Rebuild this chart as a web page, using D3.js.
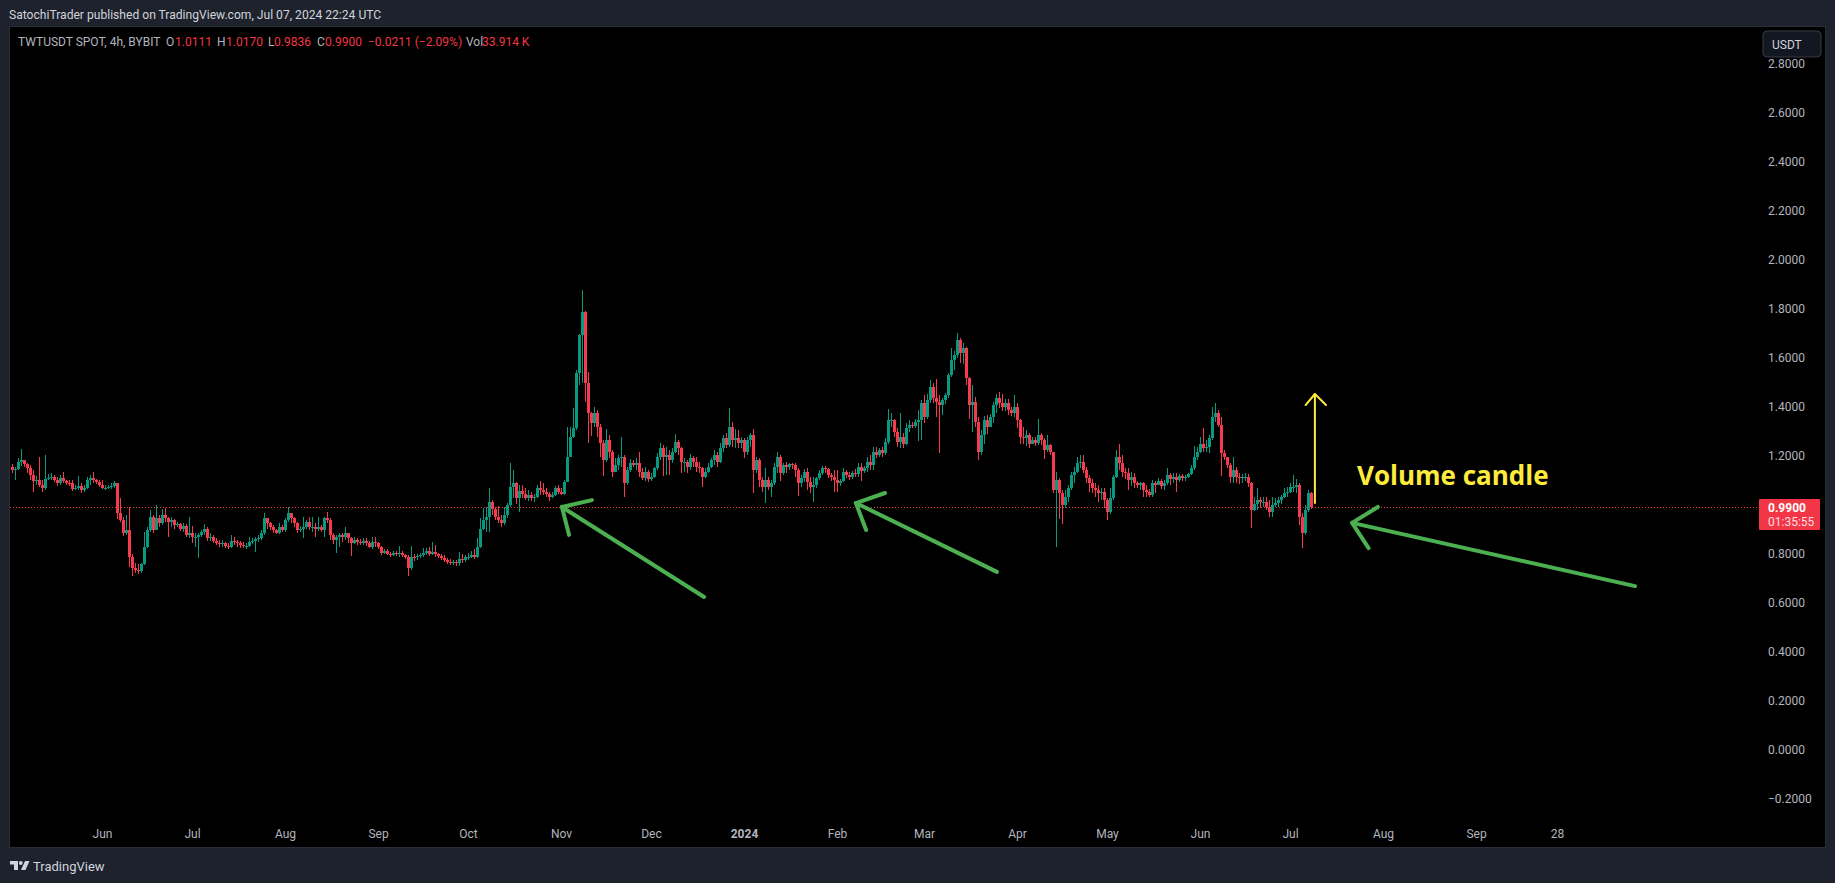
<!DOCTYPE html>
<html>
<head>
<meta charset="utf-8">
<script src="https://cdn.jsdelivr.net/npm/d3@7"></script>
<style>
  html, body { margin: 0; background: #1e222d; overflow: hidden; }
  text { font-family: Roboto, sans-serif; }
</style>
</head>
<body>
<div id="graphic"></div>
<script>
// daily candles, first one is 2 May 2023
var firstDay = '2023-05-02'

var opens = [
  1.156,1.142,1.145,1.176,1.183,1.166,1.149,1.122,1.099,1.104,1.081,1.068,1.108,1.112,1.115,1.104,1.088,1.112,1.099,1.091,
  1.088,1.064,1.070,1.079,1.061,1.068,1.102,1.112,1.104,1.095,1.081,1.068,1.070,1.072,1.077,1.088,.966,.938,.884,.900,
  .789,.741,.734,.732,.759,.830,.898,.952,.900,.945,.925,.959,.945,.932,.938,.918,.922,.904,.914,.877,
  .884,.870,.870,.877,.891,.904,.864,.870,.854,.846,.841,.843,.832,.830,.854,.850,.843,.835,.832,.832,
  .850,.854,.860,.864,.884,.945,.925,.911,.898,.887,.911,.898,.938,.966,.945,.925,.898,.904,.911,.932,
  .909,.911,.904,.909,.900,.945,.938,.877,.857,.870,.877,.870,.884,.864,.843,.857,.850,.846,.854,.843,
  .830,.850,.843,.827,.805,.813,.802,.796,.805,.800,.805,.796,.786,.741,.789,.786,.792,.796,.805,.813,
  .802,.809,.800,.792,.782,.775,.769,.764,.769,.762,.778,.775,.786,.789,.796,.786,.830,.904,.938,.952,
  1.013,.982,.952,.938,.925,.959,1.000,1.074,1.088,1.027,1.058,1.045,1.027,1.040,1.027,1.034,1.068,1.061,1.054,1.045,
  1.031,1.040,1.068,1.054,1.045,1.095,1.197,1.279,1.313,1.537,1.693,1.789,1.496,1.374,1.333,1.374,1.320,1.252,1.183,1.265,
  1.217,1.136,1.163,1.190,1.197,1.088,1.143,1.173,1.163,1.173,1.136,1.109,1.136,1.105,1.116,1.150,1.197,1.231,1.197,1.204,
  1.183,1.217,1.258,1.231,1.177,1.177,1.156,1.190,1.177,1.156,1.150,1.116,1.136,1.156,1.183,1.204,1.177,1.231,1.272,1.245,
  1.320,1.265,1.272,1.252,1.265,1.217,1.265,1.286,1.143,1.183,1.102,1.075,1.102,1.075,1.088,1.156,1.197,1.129,1.163,1.156,
  1.167,1.163,1.143,1.088,1.109,1.136,1.095,1.075,1.082,1.109,1.129,1.150,1.146,1.122,1.113,1.102,1.088,1.099,1.136,1.122,
  1.115,1.129,1.126,1.156,1.140,1.149,1.177,1.163,1.217,1.204,1.224,1.211,1.258,1.347,1.347,1.299,1.258,1.279,1.251,1.313,
  1.326,1.322,1.340,1.347,1.415,1.360,1.428,1.483,1.435,1.421,1.408,1.428,1.449,1.530,1.591,1.612,1.673,1.619,1.639,1.517,
  1.408,1.421,1.340,1.217,1.285,1.347,1.319,1.360,1.408,1.435,1.415,1.398,1.415,1.387,1.376,1.401,1.347,1.279,1.272,1.285,
  1.251,1.265,1.254,1.285,1.265,1.224,1.245,1.217,1.061,1.102,1.047,1.000,1.034,1.068,1.122,1.136,1.170,1.177,1.143,1.109,
  1.088,1.068,1.061,1.047,1.054,1.020,.973,1.027,1.115,1.197,1.170,1.136,1.129,1.102,1.115,1.088,1.081,1.088,1.061,1.054,
  1.041,1.088,1.081,1.099,1.077,1.088,1.122,1.105,1.115,1.102,1.118,1.109,1.113,1.126,1.149,1.197,1.217,1.251,1.231,1.238,
  1.272,1.360,1.374,1.326,1.211,1.197,1.163,1.115,1.143,1.115,1.109,1.115,1.115,1.088,.979,1.006,1.020,1.013,1.013,.993,
  .973,1.000,1.009,1.020,1.034,1.050,1.054,1.075,1.075,1.081,.952,.884,.979,1.047
]
var highs = [
  1.166,1.156,1.190,1.227,1.183,1.172,1.163,1.142,1.118,1.194,1.102,1.204,1.126,1.129,1.122,1.115,1.122,1.136,1.104,1.102,
  1.102,1.081,1.118,1.088,1.081,1.115,1.122,1.133,1.108,1.102,1.104,1.081,1.081,1.088,1.098,1.088,1.027,.952,.959,.990,
  .802,.762,.759,.764,.891,.911,.979,.959,1.000,.959,.982,.986,.952,.949,.941,.932,.928,.925,.922,.952,
  .914,.884,.884,.898,.922,.911,.884,.877,.864,.857,.857,.850,.843,.877,.870,.857,.854,.850,.846,.868,
  .864,.868,.877,.898,.966,.945,.932,.918,.904,.928,.918,.945,.990,.968,.952,.932,.914,.952,.938,.952,
  .952,.925,.949,.918,.949,.971,.945,.884,.877,.887,.887,.909,.887,.870,.870,.864,.860,.864,.864,.854,
  .868,.870,.850,.832,.819,.819,.809,.813,.813,.832,.813,.802,.796,.834,.800,.802,.805,.823,.823,.830,
  .847,.836,.805,.802,.796,.782,.778,.775,.775,.807,.802,.796,.805,.813,.819,.864,.945,.986,.990,1.068,
  1.020,.990,.996,.959,.990,1.009,1.170,1.142,1.095,1.081,1.081,1.068,1.061,1.054,1.045,1.081,1.098,1.088,1.068,1.054,
  1.054,1.077,1.081,1.068,1.104,1.317,1.320,1.394,1.551,1.700,1.877,1.793,1.544,1.381,1.401,1.387,1.330,1.265,1.309,1.285,
  1.224,1.190,1.204,1.279,1.204,1.156,1.186,1.183,1.190,1.217,1.150,1.156,1.143,1.129,1.156,1.211,1.252,1.245,1.238,1.224,
  1.231,1.290,1.265,1.238,1.190,1.183,1.207,1.200,1.197,1.177,1.156,1.150,1.170,1.190,1.224,1.217,1.252,1.285,1.295,1.394,
  1.340,1.309,1.306,1.279,1.272,1.279,1.292,1.309,1.194,1.190,1.116,1.151,1.116,1.102,1.170,1.217,1.204,1.173,1.177,1.173,
  1.173,1.170,1.150,1.122,1.146,1.150,1.116,1.116,1.116,1.143,1.160,1.159,1.150,1.132,1.143,1.143,1.107,1.149,1.143,1.136,
  1.140,1.145,1.170,1.170,1.159,1.197,1.204,1.238,1.238,1.231,1.238,1.272,1.390,1.376,1.353,1.313,1.376,1.292,1.333,1.347,
  1.340,1.353,1.387,1.428,1.449,1.455,1.510,1.496,1.513,1.449,1.435,1.458,1.537,1.639,1.629,1.703,1.680,1.662,1.646,1.523,
  1.489,1.442,1.360,1.306,1.363,1.367,1.371,1.421,1.453,1.462,1.453,1.431,1.431,1.398,1.449,1.415,1.353,1.319,1.306,1.292,
  1.279,1.276,1.349,1.292,1.272,1.285,1.251,1.217,1.136,1.109,1.061,1.061,1.081,1.136,1.156,1.197,1.204,1.204,1.156,1.122,
  1.105,1.088,1.081,1.068,1.068,1.027,1.068,1.122,1.224,1.249,1.204,1.149,1.149,1.136,1.129,1.098,1.095,1.095,1.081,1.064,
  1.102,1.098,1.109,1.105,1.102,1.149,1.129,1.132,1.129,1.126,1.126,1.122,1.132,1.163,1.240,1.238,1.279,1.313,1.265,1.285,
  1.401,1.417,1.387,1.360,1.224,1.197,1.170,1.194,1.156,1.129,1.126,1.129,1.126,1.095,1.034,1.068,1.034,1.034,1.034,1.020,
  1.034,1.027,1.034,1.041,1.068,1.075,1.091,1.122,1.105,1.088,.966,1.000,1.061,1.054
]
var lows = [
  1.129,1.102,1.142,1.159,1.156,1.129,1.104,1.054,1.081,1.074,1.054,1.061,1.102,1.102,1.095,1.079,1.081,1.091,1.081,1.077,
  1.058,1.061,1.061,1.047,1.054,1.064,1.081,1.088,1.085,1.074,1.064,1.061,1.064,1.065,1.068,.941,.932,.873,.877,.748,
  .711,.721,.718,.724,.755,.823,.891,.887,.898,.911,.918,.932,.868,.909,.904,.909,.895,.891,.870,.864,
  .846,.830,.782,.870,.877,.854,.854,.843,.836,.830,.827,.823,.819,.823,.836,.827,.824,.823,.822,.830,
  .841,.809,.850,.857,.877,.904,.898,.887,.881,.881,.891,.891,.932,.925,.909,.887,.891,.864,.904,.900,
  .891,.870,.895,.891,.870,.925,.857,.841,.805,.830,.850,.857,.846,.793,.841,.836,.838,.836,.832,.823,
  .819,.830,.819,.797,.802,.796,.786,.792,.792,.789,.786,.778,.711,.734,.773,.775,.782,.789,.796,.792,
  .796,.789,.782,.775,.769,.759,.755,.755,.751,.752,.762,.769,.775,.782,.778,.782,.823,.898,.891,.891,
  .959,.938,.925,.909,.918,.945,.993,1.027,1.006,.972,1.027,1.020,1.016,1.017,1.013,1.027,1.040,1.040,1.031,1.017,
  1.027,1.036,1.045,1.040,1.040,1.136,1.194,1.272,1.306,1.490,1.496,1.421,1.252,1.281,1.320,1.279,1.197,1.120,1.177,1.190,
  1.116,1.136,1.143,1.156,1.034,1.081,1.136,1.154,1.143,1.116,1.102,1.099,1.095,1.099,1.109,1.143,1.183,1.118,1.122,1.122,
  1.170,1.211,1.204,1.129,1.136,1.129,1.143,1.156,1.136,1.129,1.075,1.109,1.129,1.150,1.163,1.156,1.170,1.217,1.231,1.238,
  1.238,1.231,1.231,1.231,1.190,1.204,1.238,1.047,1.129,1.075,1.054,1.009,1.061,1.034,1.081,1.129,1.099,1.122,1.129,1.143,
  1.146,1.116,1.037,1.075,1.095,1.061,1.050,1.013,1.068,1.102,1.122,1.129,1.109,1.099,1.054,1.054,1.077,1.095,1.109,1.102,
  1.105,1.115,1.115,1.096,1.129,1.136,1.143,1.143,1.190,1.194,1.194,1.204,1.251,1.319,1.279,1.238,1.231,1.231,1.245,1.299,
  1.313,1.313,1.262,1.265,1.333,1.353,1.415,1.415,1.360,1.211,1.367,1.412,1.435,1.521,1.551,1.598,1.578,1.575,1.489,1.353,
  1.299,1.319,1.183,1.204,1.251,1.289,1.319,1.333,1.374,1.394,1.385,1.385,1.367,1.363,1.358,1.313,1.249,1.249,1.240,1.231,
  1.249,1.240,1.245,1.245,1.186,1.217,1.204,1.047,.829,.941,.921,.986,1.013,1.061,1.088,1.129,1.149,1.129,1.088,1.054,
  1.047,1.031,1.013,1.020,.986,.938,.965,1.020,1.109,1.143,1.115,1.105,1.061,1.079,1.068,1.068,1.061,1.034,1.034,1.031,
  1.034,1.047,1.081,1.064,1.061,1.081,1.081,1.088,1.054,1.095,1.099,1.099,1.109,1.122,1.143,1.183,1.213,1.217,1.217,1.211,
  1.265,1.340,1.317,1.118,1.183,1.149,1.088,1.088,1.091,1.086,1.091,1.099,1.075,.905,.977,.979,.986,.990,.979,.952,
  .949,.990,.993,1.004,1.027,1.034,1.050,1.054,1.050,.918,.826,.877,.972,.982
]
var closes = [
  1.142,1.145,1.176,1.183,1.166,1.149,1.122,1.099,1.104,1.081,1.068,1.108,1.112,1.115,1.104,1.088,1.112,1.099,1.091,1.088,
  1.064,1.070,1.079,1.061,1.068,1.102,1.112,1.104,1.095,1.081,1.068,1.070,1.072,1.077,1.088,.966,.938,.884,.900,.789,
  .741,.734,.732,.759,.830,.898,.952,.900,.945,.925,.959,.945,.932,.938,.918,.922,.904,.914,.877,.884,
  .870,.870,.877,.891,.904,.864,.870,.854,.846,.841,.843,.832,.830,.854,.850,.843,.835,.832,.832,.850,
  .854,.860,.864,.884,.945,.925,.911,.898,.887,.911,.898,.938,.966,.945,.925,.898,.904,.911,.932,.909,
  .911,.904,.909,.900,.945,.938,.877,.857,.870,.877,.870,.884,.864,.843,.857,.850,.846,.854,.843,.830,
  .850,.843,.827,.805,.813,.802,.796,.805,.800,.805,.796,.786,.741,.789,.786,.792,.796,.805,.813,.802,
  .809,.800,.792,.782,.775,.769,.764,.769,.762,.778,.775,.786,.789,.796,.786,.830,.904,.938,.952,1.013,
  .982,.952,.938,.925,.959,1.000,1.074,1.088,1.027,1.058,1.045,1.027,1.040,1.027,1.034,1.068,1.061,1.054,1.045,1.031,
  1.040,1.068,1.054,1.045,1.095,1.197,1.279,1.313,1.537,1.693,1.789,1.496,1.374,1.333,1.374,1.320,1.252,1.183,1.265,1.217,
  1.136,1.163,1.190,1.197,1.088,1.143,1.173,1.163,1.173,1.136,1.109,1.136,1.105,1.116,1.150,1.197,1.231,1.197,1.204,1.183,
  1.217,1.258,1.231,1.177,1.177,1.156,1.190,1.177,1.156,1.150,1.116,1.136,1.156,1.183,1.204,1.177,1.231,1.272,1.245,1.320,
  1.265,1.272,1.252,1.265,1.217,1.265,1.286,1.143,1.183,1.102,1.075,1.102,1.075,1.088,1.156,1.197,1.129,1.163,1.156,1.167,
  1.163,1.143,1.088,1.109,1.136,1.095,1.075,1.082,1.109,1.129,1.150,1.146,1.122,1.113,1.102,1.088,1.099,1.136,1.122,1.115,
  1.129,1.126,1.156,1.140,1.149,1.177,1.163,1.217,1.204,1.224,1.211,1.258,1.347,1.347,1.299,1.258,1.279,1.251,1.313,1.326,
  1.322,1.340,1.347,1.415,1.360,1.428,1.483,1.435,1.421,1.408,1.428,1.449,1.530,1.591,1.612,1.673,1.619,1.639,1.517,1.408,
  1.421,1.340,1.217,1.285,1.347,1.319,1.360,1.408,1.435,1.415,1.398,1.415,1.387,1.376,1.401,1.347,1.279,1.272,1.285,1.251,
  1.265,1.254,1.285,1.265,1.224,1.245,1.217,1.061,1.102,1.047,1.000,1.034,1.068,1.122,1.136,1.170,1.177,1.143,1.109,1.088,
  1.068,1.061,1.047,1.054,1.020,.973,1.027,1.115,1.197,1.170,1.136,1.129,1.102,1.115,1.088,1.081,1.088,1.061,1.054,1.041,
  1.088,1.081,1.099,1.077,1.088,1.122,1.105,1.115,1.102,1.118,1.109,1.113,1.126,1.149,1.197,1.217,1.251,1.231,1.238,1.272,
  1.360,1.374,1.326,1.211,1.197,1.163,1.115,1.143,1.115,1.109,1.115,1.115,1.088,.979,1.006,1.020,1.013,1.013,.993,.973,
  1.000,1.009,1.020,1.034,1.050,1.054,1.075,1.075,1.081,.952,.884,.979,1.047,.990
]

var priceTicks = [2.8, 2.6, 2.4, 2.2, 2.0, 1.8, 1.6, 1.4, 1.2, 0.8, 0.6, 0.4, 0.2, 0, -0.2]
var dateTicks = ['2023-06-01','2023-07-01','2023-08-01','2023-09-01','2023-10-01','2023-11-01','2023-12-01','2024-01-01',
  '2024-02-01','2024-03-01','2024-04-01','2024-05-01','2024-06-01','2024-07-01','2024-08-01','2024-09-01','2024-09-28']
var dateLabels = ['Jun','Jul','Aug','Sep','Oct','Nov','Dec','2024','Feb','Mar','Apr','May','Jun','Jul','Aug','Sep','28']
var lastPrice = 0.99

// drawings as [days after 1 Jun 2023, price]: tail, tip, barb, barb
var greenArrows = [
  [[200.7, .6245], [153.3, .992], [163.3, 1.020], [155.7, .878]],
  [[298.3, .727], [251.3, 1.008], [261, 1.049], [254.7, .898]],
  [[511, .669], [416.7, .927], [425.3, .992], [422.2, .824]]
]
var yellowArrow = [[404.3, 1.008], [404.3, 1.453], [401.2, 1.408], [408, 1.408]]

var legendParts = [
  ['TWTUSDT SPOT, 4h, BYBIT', 18, '#b2b5be'], ['O', 166, '#b2b5be'], ['1.0111', 175, '#f23645'],
  ['H', 217, '#b2b5be'], ['1.0170', 226, '#f23645'], ['L', 268, '#b2b5be'], ['0.9836', 274, '#f23645'],
  ['C', 317, '#b2b5be'], ['0.9900', 325, '#f23645'], ['\u22120.0211 (\u22122.09%)', 368, '#f23645'],
  ['Vol', 466, '#b2b5be'], ['33.914 K', 482, '#f23645']
]

var width = 1835
var height = 883
var green = '#089981'
var red = '#f73b4e'

var parseDay = d3.utcParse('%Y-%m-%d')
var t0 = parseDay('2023-06-01')

var x = d3.scaleUtc()
  .domain([t0, parseDay('2024-07-01')])
  .range([102, 1290])
var y = d3.scaleLinear()
  .domain([0, 2.8])
  .range([750, 64])

var dayX = d => x(new Date(+t0 + d * 864e5))

var candles = closes.map((c, i) => ({
  date: d3.utcDay.offset(parseDay(firstDay), i),
  o: opens[i], h: highs[i], l: lows[i], c: c
}))

var svg = d3.select('#graphic').append('svg')
  .attr('width', width)
  .attr('height', height)
  .style('display', 'block')

svg.append('text').text('SatochiTrader published on TradingView.com, Jul 07, 2024 22:24 UTC')
  .attr('x', 9).attr('y', 19).attr('fill', '#d1d4dc').attr('font-size', 12.1)

svg.append('rect')
  .attr('x', 9.5).attr('y', 26.5).attr('width', 1816).attr('height', 821)
  .attr('fill', '#000').attr('stroke', '#2a2e39')

// last price line, goes under the candles
svg.append('line')
  .attr('x1', 10).attr('x2', 1759)
  .attr('y1', Math.round(y(lastPrice)) + .5).attr('y2', Math.round(y(lastPrice)) + .5)
  .attr('stroke', '#f23645').attr('stroke-dasharray', '1 2')

var candleSel = svg.append('g').selectAll('g').data(candles).join('g')
  .attr('fill', d => d.c >= d.o ? green : red)
  .attr('shape-rendering', 'crispEdges')

candleSel.append('rect')
  .attr('x', d => Math.round(x(d.date)))
  .attr('width', 1)
  .attr('y', d => y(d.h))
  .attr('height', d => y(d.l) - y(d.h))

candleSel.append('rect')
  .attr('x', d => Math.round(x(d.date)) - 1)
  .attr('width', 3)
  .attr('y', d => y(Math.max(d.o, d.c)))
  .attr('height', d => Math.max(1, Math.abs(y(d.o) - y(d.c))))

// axes
var yAxis = d3.axisRight(y).tickValues(priceTicks).tickSize(0).tickFormat(d3.format('.4f'))
var yAxisSel = svg.append('g').attr('transform', 'translate(1768,0)').call(yAxis)
yAxisSel.select('.domain').remove()
yAxisSel.selectAll('text')
  .attr('x', 0).attr('fill', '#b2b5be').attr('font-size', 12).attr('font-family', 'Roboto, sans-serif')
  .text(d => d3.format('.4f')(d).replace('-', '\u2212'))

var xAxis = d3.axisBottom(x).tickValues(dateTicks.map(parseDay)).tickSize(0)
  .tickFormat((d, i) => dateLabels[i])
var xAxisSel = svg.append('g').attr('transform', 'translate(0,828)').call(xAxis)
xAxisSel.select('.domain').remove()
xAxisSel.selectAll('text')
  .attr('y', 0).attr('dy', '.8em').attr('fill', '#b2b5be').attr('font-size', 12).attr('font-family', 'Roboto, sans-serif')
  .attr('font-weight', d => dateLabels[dateTicks.map(parseDay).findIndex(t => +t == +d)] == '2024' ? 700 : 400)

// legend
svg.append('g').selectAll('text').data(legendParts).join('text')
  .text(d => d[0])
  .attr('x', d => d[1]).attr('y', 46)
  .attr('fill', d => d[2]).attr('font-size', 12)

// USDT button
svg.append('rect')
  .attr('x', 1763).attr('y', 31).attr('width', 58).attr('height', 26).attr('rx', 4)
  .attr('fill', '#131722').attr('stroke', '#363a45')
svg.append('text').text('USDT')
  .attr('x', 1772).attr('y', 48.5).attr('fill', '#d1d4dc').attr('font-size', 12)

// last price label
svg.append('rect')
  .attr('x', 1759).attr('y', 499).attr('width', 61).attr('height', 31).attr('rx', 1)
  .attr('fill', '#f23645')
svg.append('text').text(d3.format('.4f')(lastPrice))
  .attr('x', 1768).attr('y', 511.5).attr('fill', '#fff').attr('font-size', 12).attr('font-weight', 700)
svg.append('text').text('01:35:55')
  .attr('x', 1768).attr('y', 526).attr('fill', '#ffdfe2').attr('font-size', 12)

// hand drawn arrows
var arrowLine = d3.line().x(d => dayX(d[0])).y(d => y(d[1]))

function drawArrow(pts, color, w) {
  var g = svg.append('g')
    .attr('fill', 'none').attr('stroke', color).attr('stroke-width', w)
    .attr('stroke-linecap', 'round').attr('stroke-linejoin', 'round')
  g.append('path').attr('d', arrowLine([pts[0], pts[1]]))
  g.append('path').attr('d', arrowLine([pts[2], pts[1], pts[3]]))
}
greenArrows.forEach(a => drawArrow(a, '#4caf50', 4))
drawArrow(yellowArrow, '#ffeb3b', 2)

svg.append('text').text('Volume candle')
  .attr('x', 1357).attr('y', 485).attr('fill', '#ffeb3b')
  .attr('font-size', 26).attr('font-weight', 700).style('font-family', '"Open Sans", sans-serif')

// footer
var logo = svg.append('g').attr('fill', '#d1d4dc')
logo.append('path').attr('d', 'M10 861H18V870H14V864.5H10Z')
logo.append('circle').attr('cx', 20.8).attr('cy', 863).attr('r', 1.9)
logo.append('path').attr('d', 'M25 861H29.5L25.5 870H21Z')
svg.append('text').text('TradingView')
  .attr('x', 33).attr('y', 870.5).attr('fill', '#d1d4dc').attr('font-size', 13)
</script>
</body>
</html>
